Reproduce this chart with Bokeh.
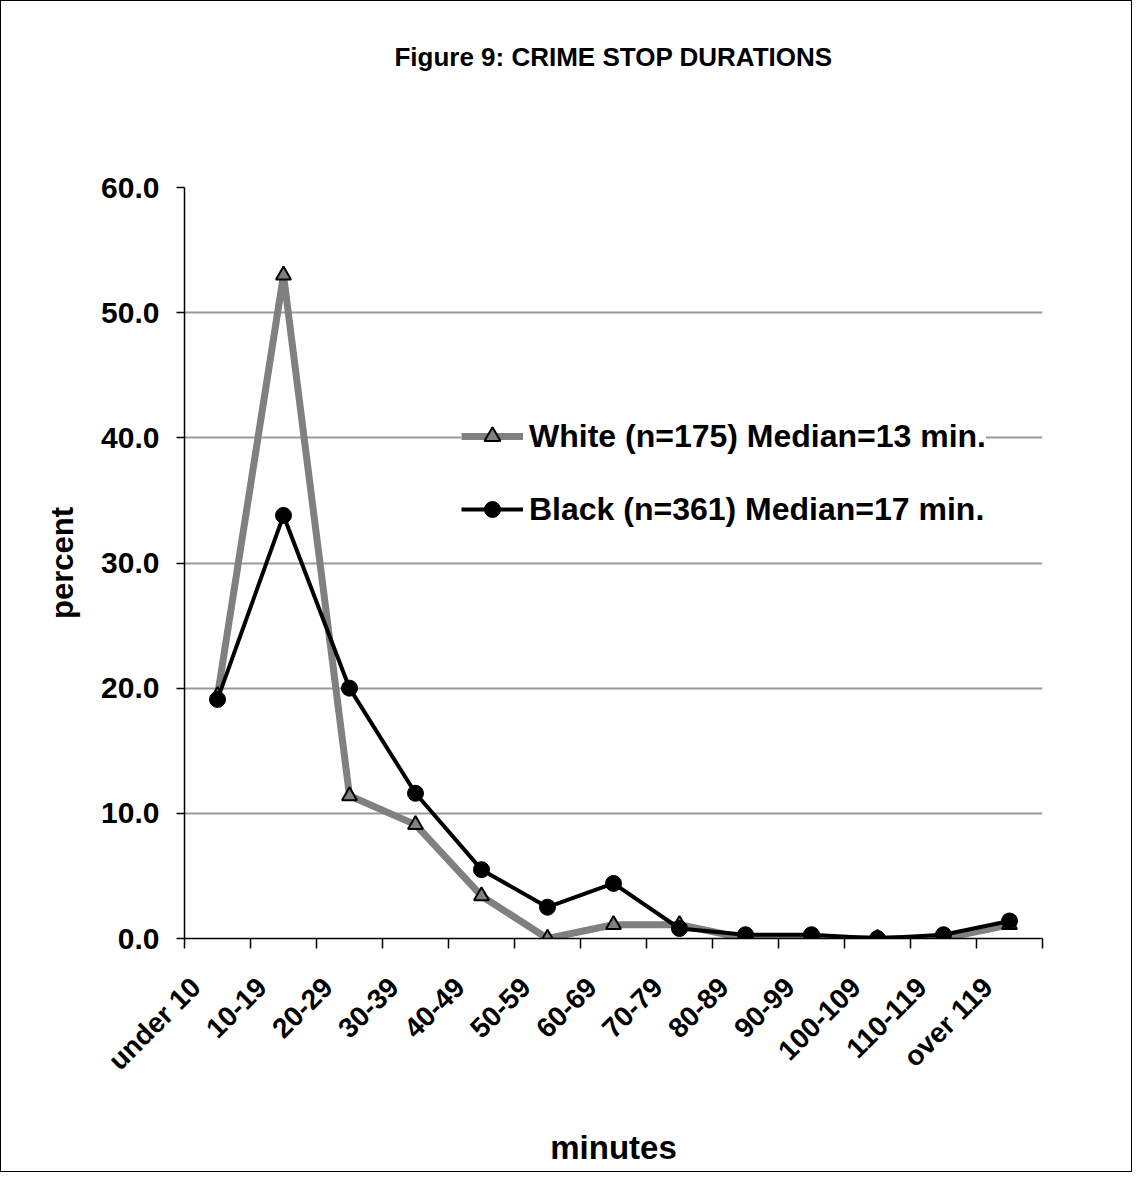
from bokeh.plotting import figure
from bokeh.models import (Range1d, FixedTicker, NumeralTickFormatter, Legend, LegendItem, Title)
from bokeh.embed import file_html
from bokeh.resources import INLINE
import math

categories = ["under 10", "10-19", "20-29", "30-39", "40-49", "50-59", "60-69",
              "70-79", "80-89", "90-99", "100-109", "110-119", "over 119"]
white_pct = [19.4, 53.0, 11.4, 9.1, 3.4, 0.0, 1.1, 1.1, 0.0, 0.0, 0.0, 0.0, 1.1]
black_pct = [19.1, 33.8, 20.0, 11.6, 5.5, 2.5, 4.4, 0.8, 0.3, 0.3, 0.0, 0.3, 1.4]
y_ticks = [0, 10, 20, 30, 40, 50, 60]
title_text = "Figure 9: CRIME STOP DURATIONS"
white_label = "White (n=175) Median=13 min."
black_label = "Black (n=361) Median=17 min."

FONT = "Liberation Sans"
n = len(categories)
xs = [i + 0.5 for i in range(n)]
label_pos = [x - 0.33 for x in xs]

W, H = 1132, 1172
ML, MR, MT, MB = 183, 91, 186, 235

p = figure(width=W, height=H, output_backend="svg", toolbar_location=None,
           x_range=Range1d(0, n), y_range=Range1d(0, y_ticks[-1]),
           min_border_left=ML, min_border_right=MR,
           min_border_top=MT, min_border_bottom=MB,
           title=title_text)
p.styles = {"border": "1px solid black"}
p.outline_line_color = None
p.background_fill_color = "white"
p.border_fill_color = "white"

p.title.align = "center"
p.title.text_font = FONT
p.title.text_font_style = "bold"
p.title.text_font_size = "26px"
p.title.text_color = "black"
p.title.standoff = 0

# blank spacer between the frame and the title
spacer = Title(text=" ", text_font_size="10px", standoff=103)
p.add_layout(spacer, "above")

# grid
p.xgrid.grid_line_color = None
p.ygrid.grid_line_color = "#9a9a9a"
p.ygrid.grid_line_width = 2
p.ygrid.ticker = FixedTicker(ticks=y_ticks)

# y axis
p.yaxis.ticker = FixedTicker(ticks=y_ticks)
p.yaxis.formatter = NumeralTickFormatter(format="0.0")
p.yaxis.major_label_text_font = FONT
p.yaxis.major_label_text_font_style = "bold"
p.yaxis.major_label_text_font_size = "30px"
p.yaxis.major_label_text_color = "black"
p.yaxis.major_tick_out = 8
p.yaxis.major_tick_in = 0
p.yaxis.minor_tick_line_color = None
p.yaxis.axis_line_color = "black"
p.yaxis.axis_line_width = 1.5
p.yaxis.major_tick_line_width = 1.5
p.yaxis.major_label_standoff = 17
p.yaxis.axis_label = "percent"
p.yaxis.axis_label_text_font = FONT
p.yaxis.axis_label_text_font_style = "bold"
p.yaxis.axis_label_text_font_size = "31px"
p.yaxis.axis_label_text_color = "black"
p.yaxis.axis_label_standoff = 18

# x axis
p.xaxis.ticker = FixedTicker(ticks=label_pos, minor_ticks=list(range(n + 1)))
p.xaxis.major_label_overrides = {x: c for x, c in zip(label_pos, categories)}
p.xaxis.major_label_orientation = math.pi / 4
p.xaxis.major_label_text_font = FONT
p.xaxis.major_label_text_font_style = "bold"
p.xaxis.major_label_text_font_size = "28px"
p.xaxis.major_label_text_color = "black"
p.xaxis.major_tick_line_color = None
p.xaxis.major_tick_out = 0
p.xaxis.major_tick_in = 0
p.xaxis.minor_tick_out = 10
p.xaxis.minor_tick_in = 0
p.xaxis.minor_tick_line_color = "black"
p.xaxis.minor_tick_line_width = 1.5
p.xaxis.axis_line_color = "black"
p.xaxis.axis_line_width = 1.5
p.xaxis.major_label_standoff = 34
p.xaxis.axis_label = "minutes"
p.xaxis.axis_label_text_font = FONT
p.xaxis.axis_label_text_font_style = "bold"
p.xaxis.axis_label_text_font_size = "33px"
p.xaxis.axis_label_text_color = "black"
p.xaxis.axis_label_standoff = 39

# series
wl = p.line(xs, white_pct, line_color="#808080", line_width=7)
ws = p.scatter(xs, white_pct, marker="triangle", size=15, fill_color="#808080",
               line_color="black", line_width=2)
bl = p.line(xs, black_pct, line_color="black", line_width=4)
bs = p.scatter(xs, black_pct, marker="circle", size=16, fill_color="black",
               line_color="black")

legend = Legend(items=[LegendItem(label=white_label, renderers=[wl, ws]),
                       LegendItem(label=black_label, renderers=[bl, bs])],
                location=(277, 409))
legend.border_line_color = None
legend.background_fill_color = "white"
legend.background_fill_alpha = 1.0
legend.label_text_font = FONT
legend.label_text_font_style = "bold"
legend.label_text_font_size = "32px"
legend.label_text_color = "black"
legend.glyph_width = 62
legend.glyph_height = 40
legend.label_height = 40
legend.label_standoff = 6
legend.spacing = 33
legend.padding = 25
legend.margin = 0
p.add_layout(legend)

open("out.html", "w").write(file_html(p, INLINE))
